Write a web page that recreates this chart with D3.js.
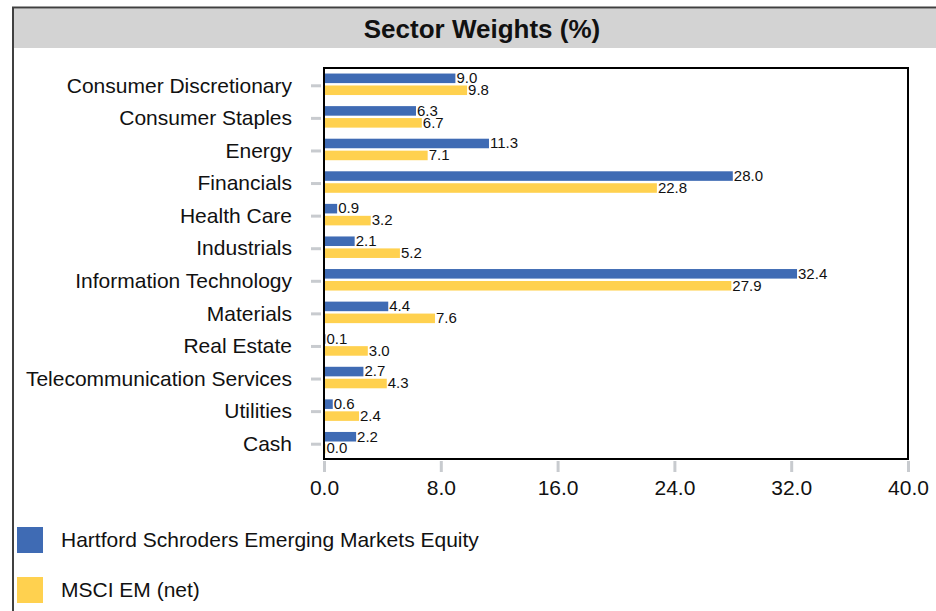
<!DOCTYPE html>
<html>
<head>
  <meta charset="utf-8">
  <title>Sector Weights (%)</title>
  <style>
    body { margin: 0; background: #fff; }
    svg { display: block; font-family: "Liberation Sans", Arial, sans-serif; }
  </style>
</head>
<body>
  <script src="https://d3js.org/d3.v7.min.js"></script>
  <script>
    var sectors = ["Consumer Discretionary", "Consumer Staples", "Energy", "Financials",
      "Health Care", "Industrials", "Information Technology", "Materials", "Real Estate",
      "Telecommunication Services", "Utilities", "Cash"];
    var seriesNames = ["Hartford Schroders Emerging Markets Equity", "MSCI EM (net)"];
    var fundValues = [9.0, 6.3, 11.3, 28.0, 0.9, 2.1, 32.4, 4.4, 0.1, 2.7, 0.6, 2.2];
    var indexValues = [9.8, 6.7, 7.1, 22.8, 3.2, 5.2, 27.9, 7.6, 3.0, 4.3, 2.4, 0.0];
    var xTicks = [0, 8, 16, 24, 32, 40];
    var colors = ["#3f6bb4", "#ffd14f"];

    var W = 936, H = 611;
    var margin = {top: 68, right: 28, bottom: 152, left: 324};
    var width = W - margin.left - margin.right,
        height = H - margin.top - margin.bottom;

    var svg = d3.select("body").append("svg")
      .attr("width", W)
      .attr("height", H);

    // outer frame + title band
    svg.append("rect")
      .attr("x", 13).attr("y", 8.5)
      .attr("width", 950).attr("height", 39.5)
      .attr("fill", "#d3d3d3");
    svg.append("path")
      .attr("d", "M13,620V7.5H960")
      .attr("fill", "none")
      .attr("stroke", "#404040")
      .attr("stroke-width", 2);
    svg.append("text")
      .attr("x", 482).attr("y", 29)
      .attr("dy", "0.35em")
      .attr("text-anchor", "middle")
      .attr("font-weight", "bold")
      .attr("font-size", 26)
      .attr("fill", "#111")
      .text("Sector Weights (%)");

    var rows = sectors.map(function(s, i) {
      return {sector: s, values: [fundValues[i], indexValues[i]]};
    });

    var x = d3.scaleLinear().domain([0, 40]).range([margin.left, margin.left + width]);
    var y = d3.scaleBand().domain(sectors)
      .range([margin.top, margin.top + height])
      .paddingInner(0.34).paddingOuter(0.17);
    var ySub = d3.scaleBand().domain([0, 1]).range([0, y.bandwidth()]).paddingInner(0.2);

    // axes
    var yAxis = svg.append("g")
      .attr("transform", "translate(321,1.5)")
      .call(d3.axisLeft(y).tickSize(10).tickPadding(19));
    yAxis.select(".domain").remove();
    yAxis.selectAll("line").attr("stroke", "#c8cbcf").attr("stroke-width", 3);
    yAxis.selectAll("text").attr("font-size", 21).attr("fill", "#111").style("font-family", "inherit");

    var xAxis = svg.append("g")
      .attr("transform", "translate(0,461)")
      .call(d3.axisBottom(x).tickValues(xTicks).tickFormat(d3.format(".1f")).tickSize(11).tickPadding(8));
    xAxis.select(".domain").remove();
    xAxis.selectAll("line").attr("stroke", "#c8cbcf").attr("stroke-width", 3);
    xAxis.selectAll("text").attr("font-size", 21).attr("fill", "#111").style("font-family", "inherit");

    // bars
    var groups = svg.selectAll(".row")
      .data(rows)
      .enter().append("g")
      .attr("class", "row")
      .attr("transform", function(d) { return "translate(0," + y(d.sector) + ")"; });

    groups.selectAll("rect")
      .data(function(d) { return d.values; })
      .enter().append("rect")
      .attr("x", x(0))
      .attr("y", function(d, i) { return ySub(i); })
      .attr("width", function(d) { return Math.max(1.5, x(d) - x(0)); })
      .attr("height", ySub.bandwidth())
      .attr("fill", function(d, i) { return colors[i]; });

    groups.selectAll("text")
      .data(function(d) { return d.values; })
      .enter().append("text")
      .attr("x", function(d) { return Math.max(x(d), x(0) + 1.5) + 1; })
      .attr("y", function(d, i) { return ySub(i) + ySub.bandwidth(); })
      .attr("font-size", 15)
      .attr("fill", "#111")
      .text(function(d) { return d.toFixed(1); });

    // plot border
    svg.append("rect")
      .attr("x", margin.left).attr("y", margin.top)
      .attr("width", width).attr("height", height)
      .attr("fill", "none")
      .attr("stroke", "#000")
      .attr("stroke-width", 2);

    // legend
    var legend = svg.selectAll(".legend")
      .data(seriesNames)
      .enter().append("g")
      .attr("class", "legend")
      .attr("transform", function(d, i) { return "translate(17," + (527 + i * 50) + ")"; });
    legend.append("rect")
      .attr("width", 26).attr("height", 26)
      .attr("fill", function(d, i) { return colors[i]; });
    legend.append("text")
      .attr("x", 44).attr("y", 13)
      .attr("dy", "0.35em")
      .attr("font-size", 21)
      .attr("fill", "#111")
      .text(function(d) { return d; });
  </script>
</body>
</html>
